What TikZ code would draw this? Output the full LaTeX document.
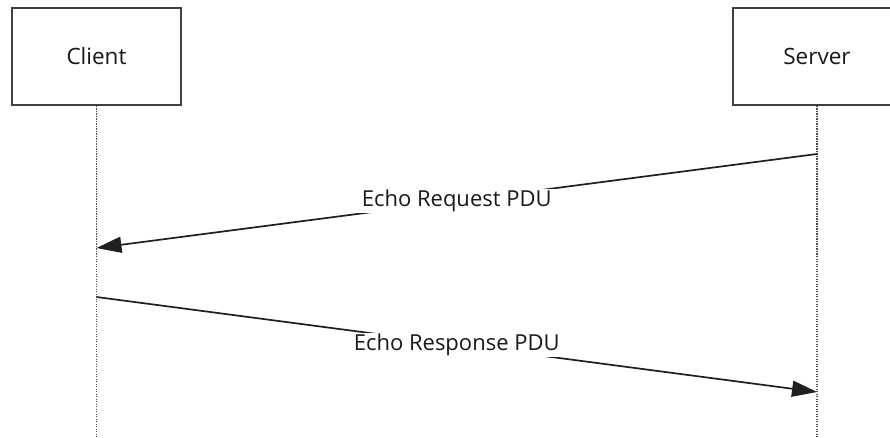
\documentclass[tikz,border=0pt]{standalone}
\usepackage{fontspec}
\setmainfont{Open Sans}
\usetikzlibrary{arrows.meta}
\begin{document}
\begin{tikzpicture}[x=1pt,y=-1pt,
  actor/.style={draw=black!75,line width=2pt,fill=white,minimum width=169pt,minimum height=97pt,inner sep=0pt,text=black!90,font=\fontsize{22.5}{26}\selectfont},
  lifeline/.style={draw=black!70,line width=1.2pt,dash pattern=on 1.2pt off 1.3pt},
  msg/.style={draw=black!88,line width=1.7pt,-{Triangle[length=25pt,width=16pt]}},
  lbl/.style={fill=white,inner xsep=5pt,inner ysep=1pt,text=black!90,font=\fontsize{22}{26}\selectfont}]
\useasboundingbox (0,0) rectangle (890,438);
\clip (0,0) rectangle (890,438);
\fill[white] (0,0) rectangle (890,438);
\node[actor] (client) at (96.5,56.5) {Client};
\node[actor] (server) at (817,56.5) {Server};
\coordinate (cend) at (96.5,440);
\coordinate (send) at (817,440);
\draw[lifeline] (client.south) -- (cend);
\draw[lifeline] (server.south) -- (send);
\coordinate (s1) at (817,154);
\coordinate (c1) at (96.5,248);
\coordinate (c2) at (96.5,297);
\coordinate (s2) at (817,392);
\draw[msg] (s1) -- node[lbl] (l1) {Echo Request PDU} (c1);
\draw[msg] (c2) -- node[lbl] (l2) {Echo Response PDU} (s2);
\end{tikzpicture}
\end{document}
